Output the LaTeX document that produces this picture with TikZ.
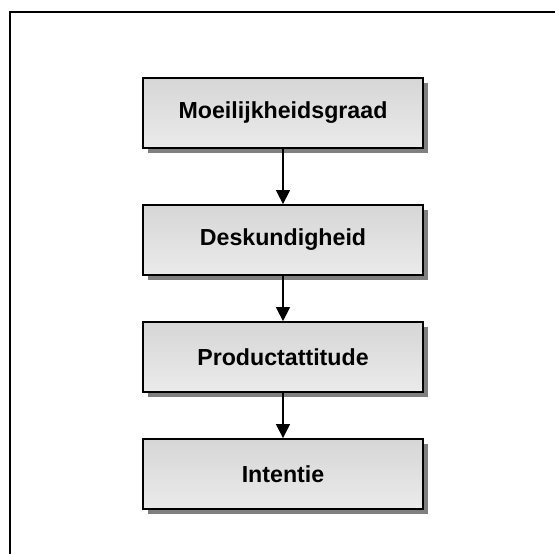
\documentclass[tikz,border=0pt]{standalone}
\usepackage{fontspec}
\setmainfont{Liberation Sans}
\usetikzlibrary{arrows.meta,shadows}

\begin{document}
\begin{tikzpicture}[x=1pt, y=1pt,
    factor/.style={draw=black, line width=1.8pt, top color=gray!32, bottom color=gray!16,
      minimum width=280pt, minimum height=70pt, inner sep=0pt,
      font=\fontsize{23.2}{27}\selectfont\bfseries,
      drop shadow={shadow xshift=5pt, shadow yshift=-5pt, fill=black!50, opacity=1}},
    link/.style={line width=1.4pt, -{Triangle[width=14pt, length=14pt]}}]
    \useasboundingbox (0, 0) rectangle (555, 554);

    \draw[line width=2pt] (9.5, 0)--(9.5, 542.3)--(556, 542.3);

    \node[factor] (moeilijk) at (283, 441) {Moeilijkheidsgraad};
    \node[factor] (deskundig) at (283, 314) {Deskundigheid};
    \node[factor] (attitude) at (283, 197) {Productattitude};
    \node[factor] (intentie) at (283, 80) {Intentie};

    \draw[link] (moeilijk)--(deskundig);
    \draw[link] (deskundig)--(attitude);
    \draw[link] (attitude)--(intentie);
  \end{tikzpicture}
\end{document}
